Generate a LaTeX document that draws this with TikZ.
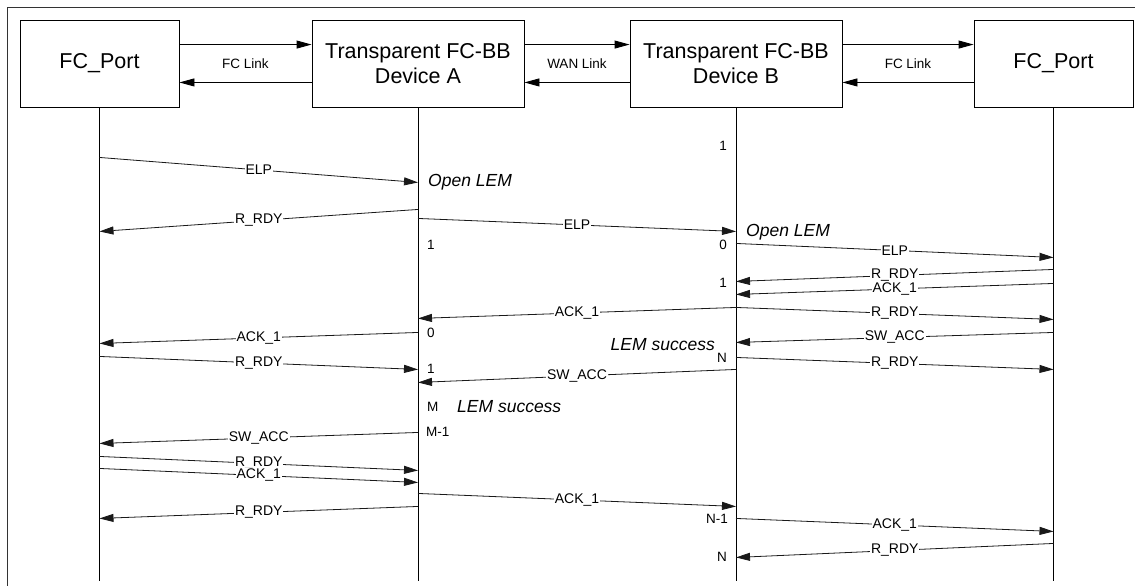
\documentclass[tikz,border=0pt]{standalone}
\usepackage{fontspec}
\setmainfont{Liberation Sans}
\usetikzlibrary{arrows.meta,calc}
\begin{document}
\begin{tikzpicture}[x=1pt,y=-1pt,
  box/.style={draw, line width=0.9pt, minimum height=87pt, inner sep=0pt, align=center,
              font=\fontsize{21.5}{25}\selectfont},
  link/.style={line width=0.9pt, -{Triangle[length=15pt,width=8pt]}},
  msgline/.style={line width=0.8pt, black!90, -{Triangle[length=14pt,width=8pt]}},
  lbl/.style={fill=white, inner sep=1pt, text=black, font=\fontsize{14}{14}\selectfont},
  linklbl/.style={inner sep=1pt, font=\fontsize{13.5}{14}\selectfont},
  cnt/.style={inner sep=0pt, font=\fontsize{13.5}{14}\selectfont},
  statelbl/.style={inner sep=0pt, font=\fontsize{17.5}{18}\selectfont\itshape},
  life/.style={line width=0.9pt}]

\useasboundingbox (0,0) rectangle (1135,586);

% outer frame
\draw[line width=0.9pt, black!80] (7,586) -- (7,7) -- (1135,7);

% participants
\node[box, minimum width=159pt] (P) at (99.5,63.5) {FC\_Port};
\node[box, minimum width=212pt] (A) at (418,63.5) {Transparent FC-BB\\Device A};
\node[box, minimum width=212pt] (B) at (736,63.5) {Transparent FC-BB\\Device B};
\node[box, minimum width=159pt] (Q) at (1053.5,63.5) {FC\_Port};

% links between participants
\draw[link] ($(P.north east)+(0,25)$) -- ($(A.north west)+(0,25)$);
\draw[link] ($(A.south west)+(0,-25)$) -- ($(P.south east)+(0,-25)$);
\node[linklbl] (l1) at ($(P.east)!0.5!(A.west)$) {FC Link};

\draw[link] ($(A.north east)+(0,25)$) -- ($(B.north west)+(0,25)$);
\draw[link] ($(B.south west)+(0,-25)$) -- ($(A.south east)+(0,-25)$);
\node[linklbl] (l2) at ($(A.east)!0.5!(B.west)$) {WAN Link};

\draw[link] ($(B.north east)+(0,25)$) -- ($(Q.north west)+(0,25)$);
\draw[link] ($(Q.south west)+(0,-25)$) -- ($(B.south east)+(0,-25)$);
\node[linklbl] (l3) at ($(B.east)!0.5!(Q.west)$) {FC Link};

% lifeline reference points (top edge of the page)
\coordinate (Lp) at ($(P.south)+(0,-107)$);
\coordinate (La) at ($(A.south)+(0,-107)$);
\coordinate (Lb) at ($(B.south)+(0,-107)$);
\coordinate (Lq) at ($(Q.south)+(0,-107)$);

% lifelines
\foreach \n/\l in {P/Lp, A/La, B/Lb, Q/Lq}
  \draw[life] (\n.south) -- ($(\l)+(0,581)$);

% message: from lifeline, y, to lifeline, y, label
\newcommand\msg[5]{\draw[msgline] ($(#1)+(0,#2)$) -- node[lbl]{#5} ($(#3)+(0,#4)$);}

\msg{Lp}{157}{La}{182}{ELP}
\msg{La}{209}{Lp}{231}{R\_RDY}
\msg{La}{218}{Lb}{231}{ELP}
\msg{Lb}{243}{Lq}{257}{ELP}
\msg{Lq}{269}{Lb}{281}{R\_RDY}
\msg{Lq}{283}{Lb}{294}{ACK\_1}
\msg{Lb}{307}{La}{318}{ACK\_1}
\msg{Lb}{307}{Lq}{319}{R\_RDY}
\msg{La}{332}{Lp}{343}{ACK\_1}
\msg{Lq}{332}{Lb}{342}{SW\_ACC}
\msg{Lp}{356}{La}{369}{R\_RDY}
\msg{Lb}{357}{Lq}{369}{R\_RDY}
\msg{Lb}{369}{La}{382}{SW\_ACC}
\msg{La}{432}{Lp}{443}{SW\_ACC}
\msg{Lp}{456}{La}{470}{R\_RDY}
\msg{Lp}{468}{La}{482}{ACK\_1}
\msg{La}{493}{Lb}{506}{ACK\_1}
\msg{La}{506}{Lp}{518}{R\_RDY}
\msg{Lb}{518}{Lq}{531}{ACK\_1}
\msg{Lq}{543}{Lb}{557}{R\_RDY}

% state notes
\node[statelbl, anchor=west] (s1) at ($(La)+(10,182)$) {Open LEM};
\node[statelbl, anchor=west] (s2) at ($(Lb)+(10,232)$) {Open LEM};
\node[statelbl, anchor=east] (s3) at ($(Lb)+(-21,344)$) {LEM success};
\node[statelbl, anchor=west] (s4) at ($(La)+(39,406)$) {LEM success};

% credit counters beside device A
\node[cnt, anchor=west] (ca1) at ($(La)+(9,244)$) {1};
\node[cnt, anchor=west] (ca2) at ($(La)+(9,332)$) {0};
\node[cnt, anchor=west] (ca3) at ($(La)+(9,368)$) {1};
\node[cnt, anchor=west] (ca4) at ($(La)+(9,406)$) {M};
\node[cnt, anchor=west] (ca5) at ($(La)+(8,431)$) {M-1};

% credit counters beside device B
\node[cnt, anchor=east] (cb1) at ($(Lb)+(-9,145)$) {1};
\node[cnt, anchor=east] (cb2) at ($(Lb)+(-9,244)$) {0};
\node[cnt, anchor=east] (cb3) at ($(Lb)+(-9,282)$) {1};
\node[cnt, anchor=east] (cb4) at ($(Lb)+(-9,357)$) {N};
\node[cnt, anchor=east] (cb5) at ($(Lb)+(-8,518)$) {N-1};
\node[cnt, anchor=east] (cb6) at ($(Lb)+(-9,556)$) {N};

\end{tikzpicture}
\end{document}
